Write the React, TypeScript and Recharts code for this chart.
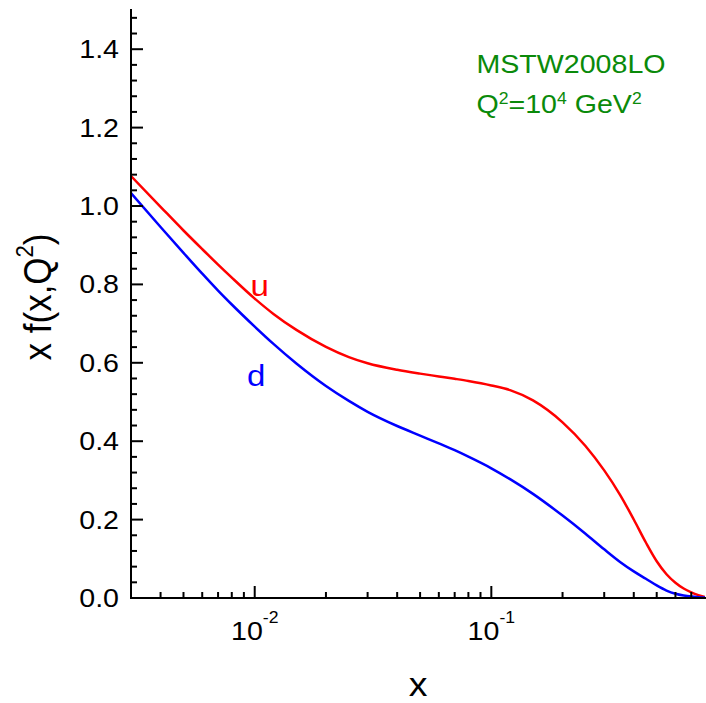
import React from 'react';
import { LineChart, Line, XAxis, YAxis, ReferenceDot } from 'recharts';

const xValues = [0.003, 0.004, 0.005, 0.006, 0.007, 0.008, 0.01, 0.012, 0.015, 0.02, 0.025, 0.03, 0.04, 0.05, 0.06, 0.07, 0.08, 0.1, 0.12, 0.15, 0.2, 0.25, 0.3, 0.35, 0.4, 0.45, 0.5, 0.55, 0.6, 0.65, 0.7, 0.75, 0.8];
const uValues = [1.0765, 0.998, 0.9375, 0.89, 0.8505, 0.8173, 0.7638, 0.7247, 0.684, 0.6406, 0.6145, 0.5987, 0.5821, 0.5724, 0.5653, 0.5592, 0.5536, 0.5423, 0.5304, 0.5041, 0.4482, 0.3878, 0.3255, 0.2633, 0.2003, 0.1416, 0.0939, 0.0607, 0.039, 0.0242, 0.0145, 0.0074, 0.0023];
const dValues = [1.0332, 0.9464, 0.8806, 0.8276, 0.7842, 0.7487, 0.6923, 0.6482, 0.5982, 0.5408, 0.5028, 0.475, 0.4388, 0.4143, 0.3944, 0.377, 0.3605, 0.3309, 0.3031, 0.2656, 0.2102, 0.164, 0.1242, 0.0921, 0.068, 0.049, 0.032, 0.019, 0.011, 0.0065, 0.0038, 0.0022, 0.0012];

const xMajorTicks = [0.01, 0.1];
const xMajorExponents = ['-2', '-1'];
const xMinorTicks = [0.004, 0.005, 0.006, 0.007, 0.008, 0.009, 0.02, 0.03, 0.04, 0.05, 0.06, 0.07, 0.08, 0.09, 0.2, 0.3, 0.4, 0.5, 0.6, 0.7];
const yMajorTicks = [0, 0.2, 0.4, 0.6, 0.8, 1.0, 1.2, 1.4];
const yMajorLabels = ['0.0', '0.2', '0.4', '0.6', '0.8', '1.0', '1.2', '1.4'];
const yMinorTicks = [0.04, 0.08, 0.12, 0.16, 0.24, 0.28, 0.32, 0.36, 0.44, 0.48, 0.52, 0.56, 0.64, 0.68, 0.72, 0.76, 0.84, 0.88, 0.92, 0.96, 1.04, 1.08, 1.12, 1.16, 1.24, 1.28, 1.32, 1.36, 1.44, 1.48];

const xDomain = [0.003, 0.8];
const yDomain = [0, 1.5];

const seriesU = 'u';
const seriesD = 'd';
const pdfName = 'MSTW2008LO';

const data = xValues.map((x, i) => ({ x, u: uValues[i], d: dValues[i] }));

const CHART_W = 706;
const CHART_H = 703;
const MARGIN = { top: 10, right: 1, bottom: 0, left: 0 };
const Y_AXIS_W = 131;
const X_AXIS_H = 105;
const PLOT_LEFT = MARGIN.left + Y_AXIS_W;
const PLOT_RIGHT = CHART_W - MARGIN.right;
const PLOT_TOP = MARGIN.top;
const PLOT_BOTTOM = CHART_H - MARGIN.bottom - X_AXIS_H;

const FONT = '"Liberation Sans", Arial, Helvetica, sans-serif';
const SX = 1.1;
const GREEN = '#0a8a0a';

const findIdx = (arr: number[], v: number) => arr.findIndex((m) => Math.abs(m - v) < 1e-9);

const BottomTick = (props: any) => {
  const x = props.x;
  const y = PLOT_BOTTOM;
  const idx = findIdx(xMajorTicks, props.payload.value);
  const len = idx >= 0 ? 12 : 6;
  return (
    <g>
      <line x1={x} x2={x} y1={y} y2={y - len} stroke="#000" strokeWidth={2} />
      {idx >= 0 && (
        <text transform={`translate(${x},${y + 42}) scale(${SX},1)`} textAnchor="middle" fontSize={26} fontFamily={FONT} fill="#000">
          <tspan>10</tspan>
          <tspan dy={-17} fontSize={16}>{xMajorExponents[idx]}</tspan>
        </text>
      )}
    </g>
  );
};

const TopTick = (props: any) => {
  const x = props.x;
  const y = PLOT_TOP;
  const idx = findIdx(xMajorTicks, props.payload.value);
  const len = idx >= 0 ? 12 : 6;
  return <line x1={x} x2={x} y1={y} y2={y + len} stroke="#000" strokeWidth={2} />;
};

const LeftTick = (props: any) => {
  const y = props.y;
  const x = PLOT_LEFT;
  const idx = findIdx(yMajorTicks, props.payload.value);
  const len = idx >= 0 ? 12 : 6;
  return (
    <g>
      <line x1={x} x2={x + len} y1={y} y2={y} stroke="#000" strokeWidth={2} />
      {idx >= 0 && (
        <text transform={`translate(${x - 12},${y + 9}) scale(${SX},1)`} textAnchor="end" fontSize={26} fontFamily={FONT} fill="#000">
          {yMajorLabels[idx]}
        </text>
      )}
    </g>
  );
};

const RightTick = (props: any) => {
  const y = props.y;
  const x = PLOT_RIGHT;
  const idx = findIdx(yMajorTicks, props.payload.value);
  const len = idx >= 0 ? 12 : 6;
  return <line x1={x} x2={x - len} y1={y} y2={y} stroke="#000" strokeWidth={2} />;
};

const XTitle = () => (
  <text transform={`translate(${(PLOT_LEFT + PLOT_RIGHT) / 2},${PLOT_BOTTOM + 98}) scale(${SX},1)`} textAnchor="middle" fontSize={34} fontFamily={FONT} fill="#000">
    x
  </text>
);

const YTitle = () => (
  <text transform={`translate(51,${(PLOT_TOP + PLOT_BOTTOM) / 2 - 7}) scale(${SX},1) rotate(-90)`} textAnchor="middle" fontSize={35} fontFamily={FONT} fill="#000">
    <tspan>x f(x,Q</tspan>
    <tspan dy={-16} fontSize={22}>2</tspan>
    <tspan dy={16}>)</tspan>
  </text>
);

const curveLabel = (text: string, color: string) => (props: any) => {
  const vb = props.viewBox;
  return (
    <text transform={`translate(${vb.x},${vb.y}) scale(${SX},1)`} textAnchor="middle" fontSize={30} fontFamily={FONT} fill={color}>
      {text}
    </text>
  );
};

const PdfInfo = (props: any) => {
  const vb = props.viewBox;
  return (
    <g>
      <text transform={`translate(${vb.x},${vb.y}) scale(${SX},1)`} textAnchor="start" fontSize={26} fontFamily={FONT} fill={GREEN}>
        {pdfName}
      </text>
      <text transform={`translate(${vb.x},${vb.y + 40}) scale(${SX},1)`} textAnchor="start" fontSize={26} fontFamily={FONT} fill={GREEN}>
        <tspan>Q</tspan>
        <tspan dy={-9} fontSize={16}>2</tspan>
        <tspan dy={9}>=10</tspan>
        <tspan dy={-9} fontSize={16}>4</tspan>
        <tspan dy={9}> GeV</tspan>
        <tspan dy={-9} fontSize={16}>2</tspan>
      </text>
    </g>
  );
};

const axisLineStyle = { stroke: '#000', strokeWidth: 2, strokeLinecap: 'square' as const };

export default function App() {
  return (
    <div style={{ position: 'absolute', left: 0, top: 0, background: '#fff' }}>
      <LineChart width={CHART_W} height={CHART_H} data={data} margin={MARGIN}>
        <XAxis
          xAxisId="b"
          dataKey="x"
          type="number"
          scale="log"
          domain={xDomain}
          allowDataOverflow
          ticks={[...xMinorTicks, ...xMajorTicks]}
          interval={0}
          tick={BottomTick}
          tickLine={false}
          axisLine={axisLineStyle}
          height={X_AXIS_H}
          label={XTitle}
        />
        <XAxis
          xAxisId="t"
          orientation="top"
          dataKey="x"
          type="number"
          scale="log"
          domain={xDomain}
          allowDataOverflow
          ticks={[...xMinorTicks, ...xMajorTicks]}
          interval={0}
          tick={TopTick}
          tickLine={false}
          axisLine={axisLineStyle}
          height={0}
        />
        <YAxis
          yAxisId="l"
          type="number"
          domain={yDomain}
          allowDataOverflow
          ticks={[...yMinorTicks, ...yMajorTicks]}
          interval={0}
          tick={LeftTick}
          tickLine={false}
          axisLine={axisLineStyle}
          width={Y_AXIS_W}
          label={YTitle}
        />
        <YAxis
          yAxisId="r"
          orientation="right"
          type="number"
          domain={yDomain}
          allowDataOverflow
          ticks={[...yMinorTicks, ...yMajorTicks]}
          interval={0}
          tick={RightTick}
          tickLine={false}
          axisLine={axisLineStyle}
          width={0}
        />
        <Line xAxisId="b" yAxisId="l" type="monotone" dataKey="u" stroke="#ff0000" strokeWidth={2.5} dot={false} isAnimationActive={false} />
        <Line xAxisId="b" yAxisId="l" type="monotone" dataKey="d" stroke="#0000ff" strokeWidth={2.5} dot={false} isAnimationActive={false} />
        <ReferenceDot xAxisId="b" yAxisId="l" x={0.0105} y={0.77} r={0} fill="none" stroke="none" label={curveLabel(seriesU, '#ff0000')} />
        <ReferenceDot xAxisId="b" yAxisId="l" x={0.01015} y={0.541} r={0} fill="none" stroke="none" label={curveLabel(seriesD, '#0000ff')} />
        <ReferenceDot xAxisId="b" yAxisId="l" x={0.0865} y={1.339} r={0} fill="none" stroke="none" label={PdfInfo} />
      </LineChart>
    </div>
  );
}
